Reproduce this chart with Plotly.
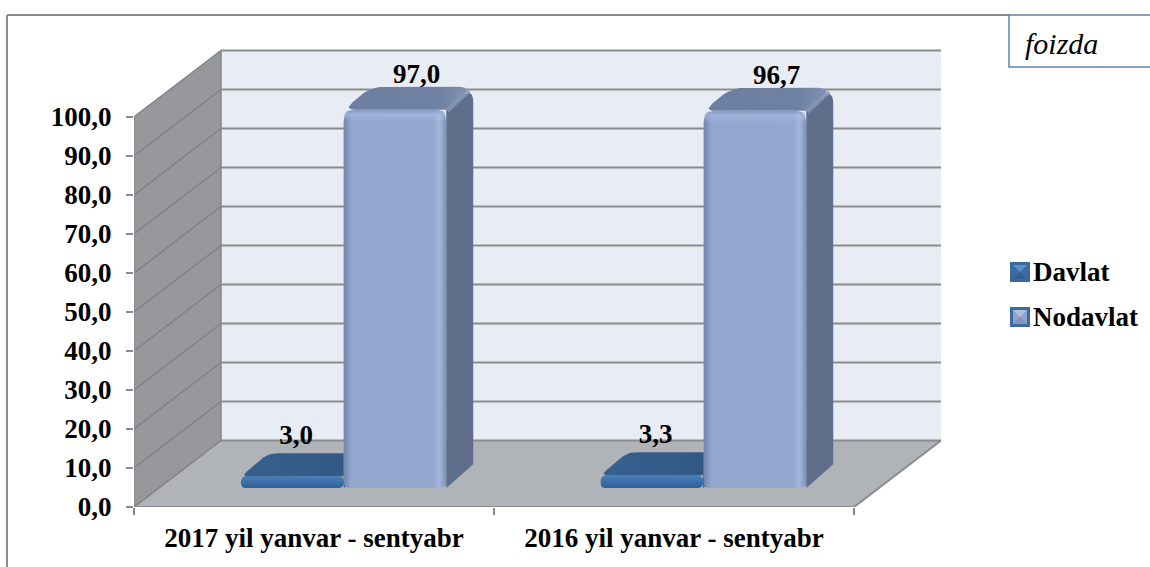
import plotly.graph_objects as go

# ---- data ----
categories = ["2017 yil yanvar - sentyabr", "2016 yil yanvar - sentyabr"]
davlat = [3.0, 3.3]
nodavlat = [97.0, 96.7]
davlat_labels = ["3,0", "3,3"]
nodavlat_labels = ["97,0", "96,7"]
series_names = ["Davlat", "Nodavlat"]
y_ticks = [0, 10, 20, 30, 40, 50, 60, 70, 80, 90, 100]
unit_note = "foizda"

# ---- layout geometry (pixels of the 1150x567 page) ----
W, H = 1150, 567
L, R, T, B = 134, 960, 30, 507
CAT_PX = 360.0          # px per category
VAL_PX = 3.9            # px per percent
XR = (R - L) / CAT_PX
YR = (B - T) / VAL_PX
WALL_DX, WALL_DY = 87 / CAT_PX, 66.5 / VAL_PX      # depth of the room
BAR_DX, BAR_DY = 27 / CAT_PX, 23 / VAL_PX          # depth of a bar
BAR_BASE = 19 / VAL_PX                             # bars stand inside the floor
BAR_W = 102.5 / CAT_PX
CENTRES_D = [158.5 / CAT_PX, 518 / CAT_PX]
CENTRES_N = [261 / CAT_PX, 621 / CAT_PX]
FONT = "Liberation Serif"
NCAT = len(categories)


def px(x):
    return (x - L) / (R - L)


def py(y):
    return (B - y) / (B - T)


def rounded(points, radii, n=6):
    """Round polygon corners; points are in data units, radii in pixels."""
    pts = [(a * CAT_PX, b * VAL_PX) for a, b in points]
    out = []
    m = len(pts)
    for i in range(m):
        p0, p1, p2 = pts[i - 1], pts[i], pts[(i + 1) % m]
        r = radii[i]

        def toward(a, b):
            d = ((a[0] - b[0]) ** 2 + (a[1] - b[1]) ** 2) ** 0.5
            t = min(r / d, 0.5) if d else 0
            return (b[0] + (a[0] - b[0]) * t, b[1] + (a[1] - b[1]) * t)

        s, e = toward(p0, p1), toward(p2, p1)
        for k in range(n + 1):
            t = k / n
            out.append(((1 - t) ** 2 * s[0] + 2 * t * (1 - t) * p1[0] + t * t * e[0],
                        (1 - t) ** 2 * s[1] + 2 * t * (1 - t) * p1[1] + t * t * e[1]))
    out.append(out[0])
    return [q[0] / CAT_PX for q in out], [q[1] / VAL_PX for q in out]


fig = go.Figure()


def poly(xs, ys, color=None, grad=None, ax=("x", "y")):
    kw = dict(x=xs, y=ys, xaxis=ax[0], yaxis=ax[1], mode="lines", fill="toself",
              line=dict(width=0), hoverinfo="skip", showlegend=False)
    if grad:
        kw["fillgradient"] = grad
    else:
        kw["fillcolor"] = color
    fig.add_trace(go.Scatter(**kw))


def seg(xs, ys, color="#8A8B8D", width=2):
    fig.add_trace(go.Scatter(x=xs, y=ys, mode="lines", line=dict(color=color, width=width),
                             hoverinfo="skip", showlegend=False, cliponaxis=False))


# ---- room: back wall, side wall, floor ----
poly([WALL_DX, NCAT + WALL_DX, NCAT + WALL_DX, WALL_DX],
     [WALL_DY, WALL_DY, 100 + WALL_DY, 100 + WALL_DY], "#E8ECF5")
poly([0, WALL_DX, WALL_DX, 0], [0, WALL_DY, 100 + WALL_DY, 100], "#97989B")
poly([0, NCAT, NCAT + WALL_DX, WALL_DX], [0, 0, WALL_DY, WALL_DY], "#B0B3B7")
for v in y_ticks:
    seg([0, WALL_DX], [v, v + WALL_DY], "#818285", 1.5)
    seg([WALL_DX, NCAT + WALL_DX], [v + WALL_DY, v + WALL_DY], "#8C8C8C", 2)
seg([WALL_DX, WALL_DX], [WALL_DY, 100 + WALL_DY], "#85868A", 1.5)
seg([0, 0], [0, 100], "#8A8B8D", 2)
seg([0, NCAT], [0, 0], "#8A8B8D", 2)
seg([NCAT, NCAT + WALL_DX], [0, WALL_DY], "#8A8B8D", 2)


def draw_bars(centres, values, name, ax, bar_col, top_grad, side_col, front_grad, rad, rb):
    fig.add_trace(go.Bar(x=centres, y=values, base=[BAR_BASE] * len(values), width=BAR_W,
                         name=name, marker=dict(color=bar_col, line=dict(width=0), cornerradius=rad),
                         xaxis=ax[0], yaxis=ax[1], showlegend=False, hoverinfo="skip"))
    for c, v in zip(centres, values):
        x0, x1 = c - BAR_W / 2, c + BAR_W / 2
        y0, y1 = BAR_BASE, BAR_BASE + v
        # side face
        sx, sy = rounded([(x1, y0), (x1 + BAR_DX, y0 + BAR_DY), (x1 + BAR_DX, y1 + BAR_DY), (x1, y1)],
                         [0, 3, rad + 4, 0])
        poly(sx, sy, side_col, ax=ax)
        # top face
        tx, ty = rounded([(x0, y1), (x1, y1), (x1 + BAR_DX, y1 + BAR_DY), (x0 + BAR_DX, y1 + BAR_DY)],
                         [rad, 0, rad + 4, rad + 2])
        poly(tx, ty, grad=top_grad, ax=ax)
        # front face
        fx, fy = rounded([(x0, y0), (x1, y0), (x1, y1), (x0, y1)], [rb, rb + 2, rad, rad])
        poly(fx, fy, grad=front_grad(v), ax=ax)


def n_front(v):
    return dict(type="horizontal", colorscale=[
        [0, "#6E83A8"], [0.025, "#7C91B8"], [0.07, "#93A6CE"], [0.88, "#95A9D0"],
        [0.93, "#A3B8DF"], [0.965, "#93A6CC"], [1, "#7C8DAD"]])


def d_front(v):
    return dict(type="vertical", colorscale=[
        [0, "#2F6096"], [0.5, "#3A6FA9"], [1, "#4A7FB8"]])


top_d = dict(type="horizontal", colorscale=[[0, "#36608F"], [1, "#335783"]])
top_n = dict(type="horizontal", colorscale=[[0, "#6C7FA0"], [0.75, "#6E81A2"], [1, "#8093B4"]])

draw_bars(CENTRES_D, davlat, series_names[0], ("x2", "y2"), "#3A6FA9", top_d, "#2C4E78", d_front, 7, 4)
draw_bars(CENTRES_N, nodavlat, series_names[1], ("x3", "y3"), "#95A9D0", top_n, "#5F6F8B", n_front, 12, 5)

# top highlight on the tall bars and the lit edge running back from the top-right corner
for c, v in zip(CENTRES_N, nodavlat):
    x0, x1 = c - BAR_W / 2, c + BAR_W / 2
    y1 = BAR_BASE + v
    hx, hy = rounded([(x0, y1 - 12 / VAL_PX), (x1, y1 - 12 / VAL_PX), (x1, y1), (x0, y1)], [0, 0, 12, 12])
    poly(hx, hy, grad=dict(type="vertical", colorscale=[
        [0, "rgba(170,190,228,0)"], [0.6, "rgba(170,190,228,0.55)"], [1, "rgba(120,140,175,0.6)"]]),
         ax=("x3", "y3"))
    fig.add_trace(go.Scatter(
        x=[x1 + 1 / CAT_PX, x1 + BAR_DX - 4 / CAT_PX], y=[y1 - 1 / VAL_PX, y1 + BAR_DY - 4 / VAL_PX],
        mode="lines", line=dict(color="rgba(135,152,186,0.8)", width=4),
        xaxis="x3", yaxis="y3", hoverinfo="skip", showlegend=False))

# ---- value labels ----
fig.add_trace(go.Scatter(
    x=[c + 3.5 / CAT_PX for c in CENTRES_D], y=[BAR_BASE + v + 10 for v in davlat],
    text=davlat_labels, mode="text", textposition="middle center",
    textfont=dict(family=FONT, size=27, color="#000000", weight=700),
    xaxis="x3", yaxis="y3", showlegend=False, hoverinfo="skip", cliponaxis=False))
fig.add_trace(go.Scatter(
    x=[c + 21.5 / CAT_PX for c in CENTRES_N], y=[BAR_BASE + v + 8.5 for v in nodavlat],
    text=nodavlat_labels, mode="text", textposition="middle center",
    textfont=dict(family=FONT, size=27, color="#000000", weight=700),
    xaxis="x3", yaxis="y3", showlegend=False, hoverinfo="skip", cliponaxis=False))

hidden = dict(range=[0, XR], visible=False, fixedrange=True)
hidden_y = dict(range=[0, YR], visible=False, fixedrange=True)

shapes = [
    # outer frame
    dict(type="line", xref="paper", yref="paper", x0=px(7), x1=px(1010), y0=py(15), y1=py(15),
         line=dict(color="#8C8C8C", width=2)),
    dict(type="line", xref="paper", yref="paper", x0=px(7), x1=px(7), y0=py(15), y1=py(570),
         line=dict(color="#8C8C8C", width=2)),
    # unit box
    dict(type="rect", xref="paper", yref="paper", x0=px(1009), x1=px(1160), y0=py(67), y1=py(15),
         line=dict(color="#5F82AC", width=1.5), fillcolor="#FFFFFF"),
]
annotations = [
    dict(text=unit_note, xref="paper", yref="paper", x=px(1023), y=py(43), xanchor="left", yanchor="middle",
         showarrow=False, font=dict(family=FONT, size=30, color="#000000", style="italic")),
]


def tri(a, b, c, color):
    path = "M{},{}L{},{}L{},{}Z".format(px(a[0]), py(a[1]), px(b[0]), py(b[1]), px(c[0]), py(c[1]))
    return dict(type="path", xref="paper", yref="paper", path=path, line=dict(width=0), fillcolor=color)


# legend swatches and texts
swatch_styles = [("#3C6BA5", "#5F90C8", "#335E92"), ("#8FA3CC", "#B0BEDC", "#8294BC")]
for name, yc, (inner, lit, dark) in zip(series_names, [272, 317], swatch_styles):
    x0, x1, y0, y1 = 1010, 1030, yc - 10, yc + 10
    shapes.append(dict(type="rect", xref="paper", yref="paper", x0=px(x0), x1=px(x1), y0=py(y1), y1=py(y0),
                       line=dict(width=0), fillcolor="#3B6A9F"))
    shapes.append(dict(type="rect", xref="paper", yref="paper", x0=px(x0 + 3), x1=px(x1 - 3),
                       y0=py(y1 - 3), y1=py(y0 + 3), line=dict(width=0), fillcolor=inner))
    shapes.append(tri((x0 + 3, y0 + 3), (x1 - 3, y0 + 3), ((x0 + x1) / 2, yc), lit))
    shapes.append(tri((x0 + 3, y1 - 3), (x1 - 3, y1 - 3), ((x0 + x1) / 2, yc), dark))
    annotations.append(dict(text=name, xref="paper", yref="paper", x=px(1031), y=py(yc), xanchor="left",
                            yanchor="middle", showarrow=False,
                            font=dict(family=FONT, size=27, color="#000000", weight=700)))

fig.update_layout(
    width=W, height=H, autosize=False,
    margin=dict(l=L, r=W - R, t=T, b=H - B, pad=0),
    paper_bgcolor="#FFFFFF", plot_bgcolor="rgba(0,0,0,0)",
    separators=", ", showlegend=False, barmode="overlay",
    xaxis=dict(range=[0, XR], tickvals=[i + 0.5 for i in range(NCAT)], ticktext=categories,
               ticks="", showgrid=False, zeroline=False, showline=False, fixedrange=True,
               ticklabelstandoff=12,
               tickfont=dict(family=FONT, size=27, color="#000000", weight=700)),
    yaxis=dict(range=[0, YR], tickvals=y_ticks, tickformat=".1f", ticks="outside", ticklen=7, tickwidth=2,
               tickcolor="#8A8B8D", showgrid=False, zeroline=False, showline=False, fixedrange=True,
               ticklabelstandoff=9,
               tickfont=dict(family=FONT, size=27, color="#000000", weight=700)),
    xaxis2=dict(range=[0, XR], overlaying="x", anchor="y2", side="bottom", tickvals=list(range(NCAT + 1)),
                ticktext=[""] * (NCAT + 1), ticks="outside", ticklen=7, tickwidth=2, tickcolor="#8A8B8D",
                showgrid=False, zeroline=False, showline=False, fixedrange=True),
    yaxis2=dict(hidden_y, overlaying="y"),
    xaxis3=dict(hidden, overlaying="x", anchor="y3"),
    yaxis3=dict(hidden_y, overlaying="y"),
    shapes=shapes, annotations=annotations,
)
fig.write_html("out.html", config={"displayModeBar": False},
               post_script="document.body.style.margin='0';document.documentElement.style.overflow='hidden';")
